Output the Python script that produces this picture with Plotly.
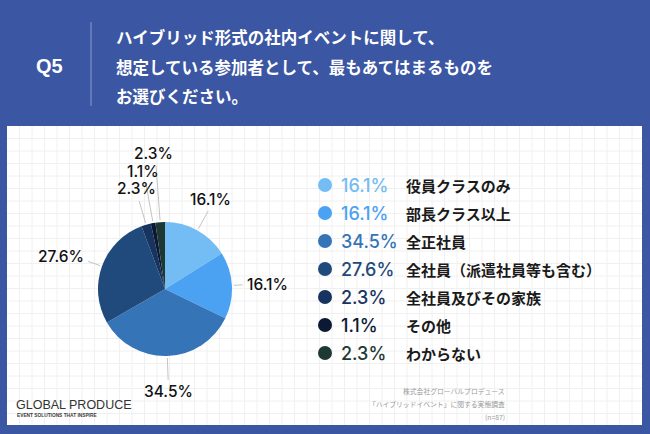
import math
import plotly.graph_objects as go

categories = ["役員クラスのみ", "部長クラス以上", "全正社員", "全社員（派遣社員等も含む）",
              "全社員及びその家族", "その他", "わからない"]
values = [16.1, 16.1, 34.5, 27.6, 2.3, 1.1, 2.3]
colors = ["#74BCF4", "#4BA2F2", "#3574B6", "#1F4A7B", "#17335F", "#0C1935", "#1E3934"]
title_lines = ["ハイブリッド形式の社内イベントに関して、",
               "想定している参加者として、最もあてはまるものを",
               "お選びください。"]
source_lines = ["株式会社グローバルプロデュース", "「ハイブリッドイベント」に関する実態調査", "(n=87)"]

W, H = 650, 434
BG = "#3B56A2"
JP = "Noto Sans CJK JP"
NUM = "Inter, Liberation Sans"
CX, CY, R = 165, 289, 67   # pie centre / radius in pixels (layout)

fig = go.Figure()
fig.add_trace(go.Pie(
    values=values, labels=categories, sort=False, direction="clockwise", rotation=0,
    marker=dict(colors=colors, line=dict(width=0)),
    textinfo="none",
    domain=dict(x=[(CX - R) / W, (CX + R) / W], y=[1 - (CY + R) / H, 1 - (CY - R) / H]),
    showlegend=False, hoverinfo="label+value",
))

ann = []
# slice labels with leader lines, positioned from the data's cumulative angles
total = sum(values)
cum = 0.0
k_small = 0
for v in values:
    mid = (cum + v / 2) / total * 2 * math.pi
    cum += v
    s, c = math.sin(mid), math.cos(mid)
    x0, y0 = CX + (R + 2) * s, CY - (R + 2) * c
    txt = f"{v:.1f}%"
    if v < 4:
        y_end = CY - R - 21 - 17.5 * k_small
        Rl = (CY - y_end) / c
        x_end = CX + Rl * s
        k_small += 1
        tx, ty, xa, ya = x_end - 3, y_end - 1, "center", "bottom"
    else:
        L = 10 + 14 * abs(c)
        x_end, y_end = CX + (R + L) * s, CY - (R + L) * c
        if s > 0.7:
            tx, ty, xa, ya = x_end + 2, y_end, "left", "middle"
        elif s < -0.7:
            tx, ty, xa, ya = x_end - 2, y_end - 5, "right", "middle"
        else:
            tx, ty = x_end + 5 * (1 if s > 0 else -1) * abs(s), y_end
            xa, ya = "center", ("bottom" if c > 0 else "top")
    fig.add_trace(go.Scatter(x=[x0, x_end], y=[y0, y_end], mode="lines",
                             line=dict(color="#C4C4C4", width=1), hoverinfo="skip",
                             showlegend=False, xaxis="x", yaxis="y"))
    ann.append(dict(text=txt, x=tx, y=ty, xref="x", yref="y", showarrow=False,
                    font=dict(family=NUM, size=15.5, color="#111111", weight=500),
                    xanchor=xa, yanchor=ya))

# legend dots
leg_y = [185 + i * 28 for i in range(len(categories))]
fig.add_trace(go.Scatter(x=[325] * len(categories), y=leg_y, mode="markers",
                         marker=dict(color=colors, size=14, line=dict(width=0)),
                         hoverinfo="skip", showlegend=False))
for c_, v, col, yy in zip(categories, values, colors, leg_y):
    ann.append(dict(text=f"{v:.1f}%", x=339, y=yy, xref="x", yref="y", showarrow=False,
                    font=dict(family=NUM, size=18, color=col, weight=500),
                    xanchor="left", yanchor="middle"))
    ann.append(dict(text=f"<b>{c_}</b>", x=404, y=yy, xref="x", yref="y", showarrow=False,
                    font=dict(family=JP, size=15, color="#1A1A1A"), xanchor="left", yanchor="middle"))

shapes = [dict(type="rect", xref="x", yref="y", x0=7, x1=642, y0=126, y1=425,
               fillcolor="white", line=dict(width=0), layer="below")]
step = 12.5
gx = 7 + step
while gx < 642:
    shapes.append(dict(type="line", xref="x", yref="y", x0=gx, x1=gx, y0=126, y1=425,
                       line=dict(color="#F0F0F0", width=1), layer="below"))
    gx += step
gy = 126 + step
while gy < 425:
    shapes.append(dict(type="line", xref="x", yref="y", x0=7, x1=642, y0=gy, y1=gy,
                       line=dict(color="#F0F0F0", width=1), layer="below"))
    gy += step
shapes.append(dict(type="line", xref="x", yref="y", x0=91, x1=91, y0=22, y1=106,
                   line=dict(color="#8C9CCB", width=1)))

ann.append(dict(text="<b>Q5</b>", x=49, y=66, xref="x", yref="y", showarrow=False,
                font=dict(family="Liberation Sans", size=20, color="white"),
                xanchor="center", yanchor="middle"))
for i, t in enumerate(title_lines):
    ann.append(dict(text=f"<b>{t}</b>", x=114, y=37 + i * 29.5, xref="x", yref="y",
                    showarrow=False, font=dict(family=JP, size=16.5, color="white"),
                    xanchor="left", yanchor="middle"))
ann.append(dict(text="GLOBAL PRODUCE", x=14, y=405, xref="x", yref="y", showarrow=False,
                font=dict(family="Liberation Sans Narrow, Liberation Sans", size=12.5, color="#333333",
                          weight=500),
                xanchor="left", yanchor="middle"))
ann.append(dict(text="<b>EVENT SOLUTIONS THAT INSPIRE</b>", x=15, y=415, xref="x", yref="y",
                showarrow=False, font=dict(family="Liberation Sans", size=4.8, color="#3A3A3A"),
                xanchor="left", yanchor="middle"))
for i, t in enumerate(source_lines):
    ann.append(dict(text=t, x=507, y=391 + i * 13, xref="x", yref="y", showarrow=False,
                    font=dict(family=JP, size=6.8, color="#9A9A9A"), xanchor="right", yanchor="middle"))

fig.update_layout(width=W, height=H, margin=dict(l=0, r=0, t=0, b=0),
                  paper_bgcolor=BG, plot_bgcolor="rgba(0,0,0,0)", shapes=shapes, annotations=ann,
                  xaxis=dict(range=[0, W], visible=False, domain=[0, 1], fixedrange=True),
                  yaxis=dict(range=[H, 0], visible=False, domain=[0, 1], fixedrange=True))
fig.write_html("out.html", config={"displayModeBar": False},
               post_script="document.body.style.margin='0';document.body.style.background='%s';" % BG)
